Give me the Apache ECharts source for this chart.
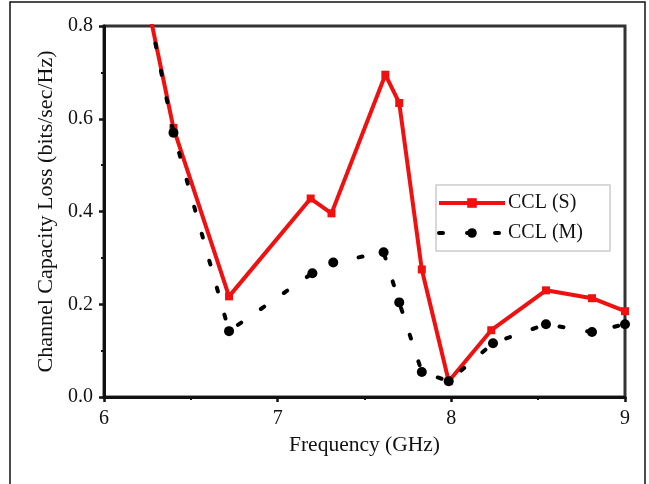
<!DOCTYPE html>
<html>
<head>
<meta charset="utf-8">
<script src="https://cdn.jsdelivr.net/npm/echarts@6/dist/echarts.min.js"></script>
<style>
  html, body { margin: 0; padding: 0; background: #fff; }
  #chart { width: 649px; height: 484px; }
</style>
</head>
<body>
<div id="chart"></div>
<script>
var freqS = [6.2, 6.40, 6.72, 7.19, 7.31, 7.62, 7.70, 7.83, 7.985, 8.23, 8.545, 8.81, 9.0];
var cclS  = [0.94, 0.58, 0.217, 0.428, 0.396, 0.695, 0.634, 0.275, 0.034, 0.144, 0.230, 0.213, 0.185];

var freqM = [6.2, 6.40, 6.72, 7.20, 7.32, 7.61, 7.70, 7.83, 7.985, 8.24, 8.545, 8.81, 9.0];
var cclM  = [0.94, 0.57, 0.142, 0.267, 0.290, 0.312, 0.204, 0.054, 0.034, 0.116, 0.157, 0.140, 0.157];

var seriesNames = ['CCL (S)', 'CCL (M)'];

function pairs(xs, ys) {
    return xs.map(function (x, i) { return [x, ys[i]]; });
}

var font = 'Liberation Serif';
var chart = echarts.init(document.getElementById('chart'));

var option = {
    backgroundColor: '#fff',
    animation: false,
    graphic: [{
        type: 'rect',
        shape: { x: 10, y: 2, width: 635, height: 520 },
        style: { fill: 'none', stroke: '#111', lineWidth: 1.5 }
    }],
    grid: {
        left: 104, right: 24, top: 26, bottom: 87,
        show: true, borderColor: '#333', borderWidth: 3
    },
    legend: {
        data: seriesNames,
        orient: 'vertical',
        left: 436, top: 185,
        padding: [8, 27, 8, 1],
        itemGap: 10,
        itemWidth: 66, itemHeight: 12,
        lineStyle: { width: 4 },
        borderColor: '#ccc', borderWidth: 1.5,
        textStyle: { fontFamily: font, fontSize: 20, color: '#111', padding: [0, 0, 0, -2] }
    },
    xAxis: {
        type: 'value',
        min: 6, max: 9, interval: 1,
        name: 'Frequency (GHz)',
        nameLocation: 'middle', nameGap: 31,
        nameTextStyle: { fontFamily: font, fontSize: 21.5, color: '#111' },
        axisLine: { lineStyle: { color: '#111', width: 3 } },
        axisTick: { length: 5, lineStyle: { width: 2.5, color: '#111' } },
        minorTick: { show: true, splitNumber: 2, length: 3, lineStyle: { width: 2, color: '#111' } },
        splitLine: { show: false },
        axisLabel: { fontFamily: font, fontSize: 20, color: '#111', margin: 12 }
    },
    yAxis: {
        type: 'value',
        min: 0, max: 0.8, interval: 0.2,
        name: 'Channel Capacity Loss (bits/sec/Hz)',
        nameLocation: 'middle', nameGap: 40,
        nameTextStyle: { fontFamily: font, fontSize: 22, color: '#111' },
        axisLine: { lineStyle: { color: '#111', width: 3 } },
        axisTick: { length: 5, lineStyle: { width: 2.5, color: '#111' } },
        minorTick: { show: true, splitNumber: 2, length: 3, lineStyle: { width: 2, color: '#111' } },
        splitLine: { show: false },
        axisLabel: {
            fontFamily: font, fontSize: 20, color: '#111', margin: 11,
            formatter: function (v) { return v.toFixed(1); }
        }
    },
    series: [{
        name: seriesNames[0],
        type: 'line',
        data: pairs(freqS, cclS),
        clip: true,
        symbol: 'rect', symbolSize: 8,
        itemStyle: { color: '#f01010' },
        lineStyle: { color: '#f01010', width: 4 },
        z: 2
    }, {
        name: seriesNames[1],
        type: 'line',
        data: pairs(freqM, cclM),
        clip: true,
        symbol: 'circle', symbolSize: 10,
        itemStyle: { color: '#000' },
        lineStyle: { color: '#000', width: 4, type: [4, 24], cap: 'round' },
        z: 3
    }]
};

chart.setOption(option);
window.onresize = chart.resize;
</script>
</body>
</html>
